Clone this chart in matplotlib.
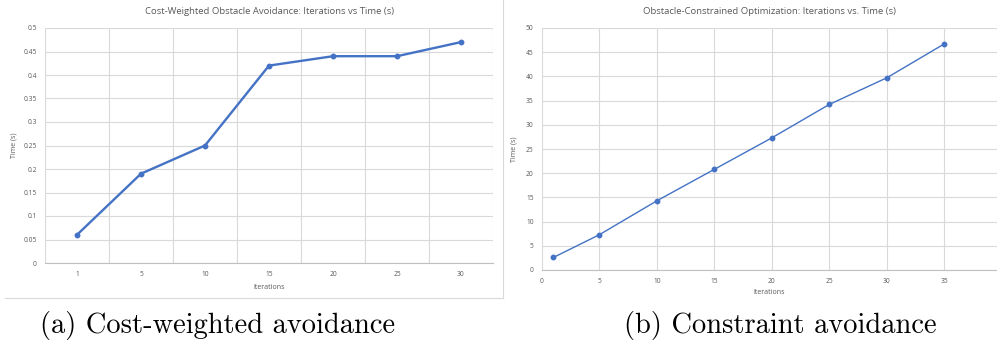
import numpy as np
import matplotlib.pyplot as plt
from matplotlib.lines import Line2D

# data
cost_iters = ["1", "5", "10", "15", "20", "25", "30"]
cost_time = [0.06, 0.19, 0.25, 0.42, 0.44, 0.44, 0.47]

cons_iters = [1, 5, 10, 15, 20, 25, 30, 35]
cons_time = [2.6, 7.3, 14.3, 20.8, 27.3, 34.2, 39.7, 46.7]

W, H = 997, 346
blue = '#4472C4'
grid = '#D9D9D9'
txt = '#595959'
font = ['Open Sans', 'DejaVu Sans']


def px_axes(fig, x0, y0, x1, y1):
    # pixel box (top-left origin) -> figure axes
    return fig.add_axes([x0 / W, 1 - y1 / H, (x1 - x0) / W, (y1 - y0) / H])


def style(ax):
    for s in ax.spines.values():
        s.set_visible(False)
    ax.tick_params(length=0, labelsize=4.8, colors=txt, pad=6)
    for lab in ax.get_xticklabels() + ax.get_yticklabels():
        lab.set_family(font)
    ax.set_axisbelow(True)


fig = plt.figure(figsize=(W / 100, H / 100), dpi=100)

# ---- left panel: category x axis
ax1 = px_axes(fig, 45, 28, 493, 263)
pos = np.arange(len(cost_iters))
ax1.plot(pos, cost_time, color=blue, lw=1.7, marker='o', ms=3.2, zorder=3)
ax1.set_xlim(-0.5, len(cost_iters) - 0.5)
ax1.set_ylim(0, 0.5)
ax1.set_xticks(pos)
ax1.set_xticklabels(cost_iters)
ax1.set_yticks(np.arange(0, 0.51, 0.05))
ax1.set_yticklabels(['0', '0.05', '0.1', '0.15', '0.2', '0.25', '0.3',
                     '0.35', '0.4', '0.45', '0.5'])
ax1.set_xticks(np.arange(-0.5, len(cost_iters)), minor=True)
ax1.tick_params(which='minor', length=0)
ax1.grid(axis='y', color=grid, lw=0.8)
ax1.grid(axis='x', which='minor', color=grid, lw=0.8)
style(ax1)
ax1.spines['bottom'].set_visible(True)
ax1.spines['bottom'].set_color('#BFBFBF')
ax1.set_title('Cost-Weighted Obstacle Avoidance: Iterations vs Time (s)',
              fontsize=6.8, color=txt, family=font, pad=10)
ax1.set_xlabel('Iterations', fontsize=5, color=txt, family=font, labelpad=4)
ax1.set_ylabel('Time (s)', fontsize=5, color=txt, family=font, labelpad=4)

# ---- right panel: numeric x axis
ax2 = px_axes(fig, 542, 28, 997, 270)
ax2.plot(cons_iters, cons_time, color=blue, lw=1.0, marker='o', ms=3.2, zorder=3)
ax2.set_xlim(0, 39.6)
ax2.set_ylim(0, 50)
ax2.set_xticks(np.arange(0, 36, 5))
ax2.set_yticks(np.arange(0, 51, 5))
ax2.grid(color=grid, lw=0.8)
style(ax2)
ax2.spines['bottom'].set_visible(True)
ax2.spines['bottom'].set_color('#BFBFBF')
ax2.set_title('Obstacle-Constrained Optimization: Iterations vs. Time (s)',
              fontsize=6.8, color=txt, family=font, pad=10)
ax2.set_xlabel('Iterations', fontsize=5, color=txt, family=font, labelpad=3)
ax2.set_ylabel('Time (s)', fontsize=5, color=txt, family=font, labelpad=6)

# frame lines of the left screenshot
fig.add_artist(Line2D([5 / W, 503 / W], [1 - 298 / H, 1 - 298 / H],
                      color='#D9D9D9', lw=0.8))
fig.add_artist(Line2D([503 / W, 503 / W], [1, 1 - 298 / H],
                      color='#D9D9D9', lw=0.8))

# captions
fig.text(218 / W, 1 - 325 / H, '(a) Cost-weighted avoidance', ha='center',
         va='center', fontsize=20.5, family='cmr10')
fig.text(780 / W, 1 - 325 / H, '(b) Constraint avoidance', ha='center',
         va='center', fontsize=20.5, family='cmr10')

fig.savefig('out.png', dpi=100)
